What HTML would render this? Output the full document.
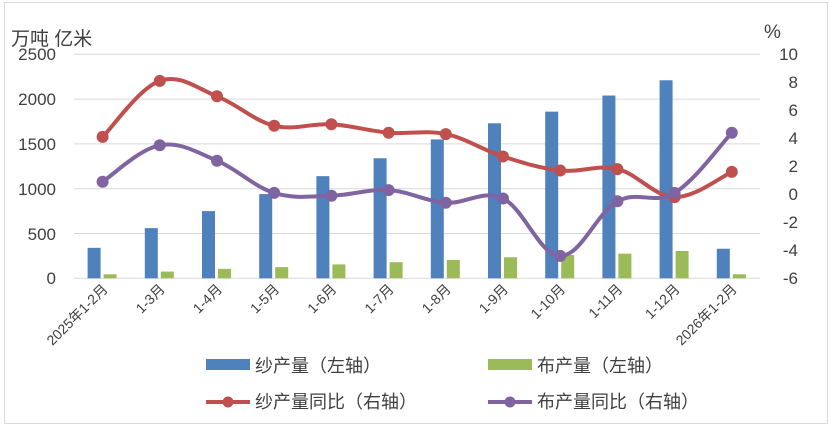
<!DOCTYPE html>
<html><head><meta charset="utf-8"><style>
body{margin:0;background:#fff}
svg{display:block;font-family:"Liberation Sans","Noto Sans CJK SC",sans-serif}
</style></head><body>
<svg width="830" height="432" viewBox="0 0 830 432">
<rect x="4.5" y="2.5" width="823" height="421" fill="#fff" stroke="#d9d9d9"/>
<g stroke="#d9d9d9" stroke-width="1">
<line x1="74" y1="54.3" x2="760" y2="54.3"/>
<line x1="74" y1="99.1" x2="760" y2="99.1"/>
<line x1="74" y1="143.9" x2="760" y2="143.9"/>
<line x1="74" y1="188.7" x2="760" y2="188.7"/>
<line x1="74" y1="233.5" x2="760" y2="233.5"/>
<line x1="74" y1="278.3" x2="760" y2="278.3"/>
</g>
<g font-size="19" fill="#404040">
<text x="11" y="45">万吨 亿米</text>
<text x="764" y="38">%</text>
</g>
<g font-size="17" fill="#404040" text-anchor="end">
<text x="56" y="60">2500</text><text x="56" y="105">2000</text><text x="56" y="150">1500</text>
<text x="56" y="195">1000</text><text x="56" y="240">500</text><text x="56" y="284">0</text>
</g>
<g font-size="17" fill="#404040" text-anchor="end">
<text x="798" y="60">10</text><text x="798" y="88">8</text><text x="798" y="116">6</text>
<text x="798" y="144">4</text><text x="798" y="172">2</text><text x="798" y="200">0</text>
<text x="798" y="228">-2</text><text x="798" y="256">-4</text><text x="798" y="284">-6</text>
</g>
<g id="bars"></g>
<g font-size="14" fill="#404040" text-anchor="end" id="xl"></g>
<g id="lines"></g>
<rect x="206" y="359" width="44" height="11" fill="#4f81bd"/>
<text x="255" y="372" font-size="18" fill="#404040">纱产量（左轴）</text>
<rect x="488" y="359" width="44" height="11" fill="#9bbb59"/>
<text x="537" y="372" font-size="18" fill="#404040">布产量（左轴）</text>
<line x1="206" y1="402" x2="250" y2="402" stroke="#c0504d" stroke-width="4"/>
<circle cx="228" cy="402" r="5.5" fill="#c0504d"/>
<text x="255" y="408" font-size="18" fill="#404040">纱产量同比（右轴）</text>
<line x1="488" y1="402" x2="532" y2="402" stroke="#8064a2" stroke-width="4"/>
<circle cx="510" cy="402" r="5.5" fill="#8064a2"/>
<text x="537" y="408" font-size="18" fill="#404040">布产量同比（右轴）</text>
</svg>
<script>
var ns="http://www.w3.org/2000/svg";
var blue=[340,560,750,940,1140,1340,1550,1730,1860,2040,2210,330];
var green=[45,75,105,125,155,180,205,235,260,275,305,45];
var red=[4.1,8.1,7.0,4.9,5.0,4.4,4.3,2.7,1.7,1.8,-0.2,1.6];
var pur=[0.9,3.5,2.4,0.1,-0.1,0.3,-0.6,-0.3,-4.4,-0.5,0.1,4.4];
var labs=["2025年1-2月","1-3月","1-4月","1-5月","1-6月","1-7月","1-8月","1-9月","1-10月","1-11月","1-12月","2026年1-2月"];
function yl(v){return 278.3-v*0.0896;}
function yr(v){return 194.3-v*14;}
function cx(i){return 74+57.2*(i+0.5);}
var b=document.getElementById("bars"),xl=document.getElementById("xl"),L=document.getElementById("lines");
function el(t,a,p){var e=document.createElementNS(ns,t);for(var k in a)e.setAttribute(k,a[k]);p.appendChild(e);return e;}
for(var i=0;i<12;i++){var c=cx(i);
el("rect",{x:c-15,y:yl(blue[i]),width:13,height:278.3-yl(blue[i]),fill:"#4f81bd"},b);
el("rect",{x:c+1,y:yl(green[i]),width:13,height:278.3-yl(green[i]),fill:"#9bbb59"},b);
var t=el("text",{transform:"translate("+(c+6)+",290) rotate(-45)"},xl);t.textContent=labs[i];}
function curve(d,col){var p=d.map(function(v,i){return [cx(i),yr(v)];});
var s="M"+p[0][0]+","+p[0][1];
for(var i=0;i<p.length-1;i++){var p0=p[i-1]||p[i],p1=p[i],p2=p[i+1],p3=p[i+2]||p2;var k=0.18;
s+=" C"+(p1[0]+(p2[0]-p0[0])*k)+","+(p1[1]+(p2[1]-p0[1])*k)+" "+(p2[0]-(p3[0]-p1[0])*k)+","+(p2[1]-(p3[1]-p1[1])*k)+" "+p2[0]+","+p2[1];}
el("path",{d:s,fill:"none",stroke:col,"stroke-width":4,"stroke-linejoin":"round"},L);
p.forEach(function(q){el("circle",{cx:q[0],cy:q[1],r:6,fill:col},L);});}
curve(red,"#c0504d");curve(pur,"#8064a2");
</script>
</body></html>
